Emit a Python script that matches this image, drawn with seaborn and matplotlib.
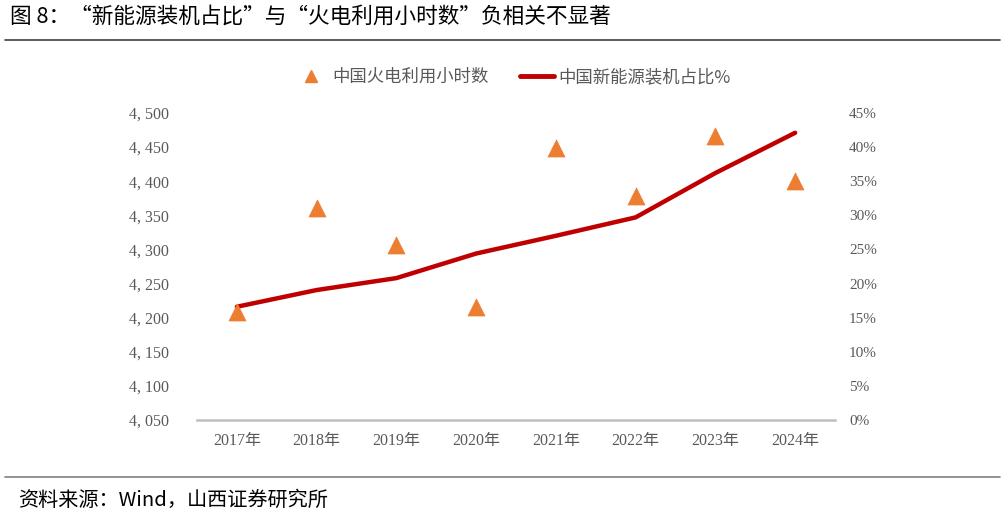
import matplotlib
matplotlib.use("Agg")
import matplotlib.pyplot as plt
import seaborn as sns
import pandas as pd
from matplotlib.lines import Line2D

years = ["2017年", "2018年", "2019年", "2020年", "2021年", "2022年", "2023年", "2024年"]
thermal_hours = [4209, 4361, 4307, 4216, 4448, 4379, 4466, 4400]
new_energy_share = [0.166, 0.1905, 0.208, 0.244, 0.270, 0.297, 0.362, 0.421]
left_ticks = [4050, 4100, 4150, 4200, 4250, 4300, 4350, 4400, 4450, 4500]
right_ticks = [0, 0.05, 0.10, 0.15, 0.20, 0.25, 0.30, 0.35, 0.40, 0.45]

title = "图 8：“新能源装机占比”与“火电利用小时数”负相关不显著"
source = "资料来源：Wind，山西证券研究所"
s1_name = "中国火电利用小时数"
s2_name = "中国新能源装机占比%"

sns.set_theme(style="white")
plt.rcParams['font.family'] = ['Liberation Serif', 'Noto Sans CJK SC', 'DejaVu Sans']

df = pd.DataFrame({"year": years, "hours": thermal_hours, "share": new_energy_share})

fig = plt.figure(figsize=(10.07, 5.17), dpi=100)
ax = fig.add_axes([197/1007, 1-420/517, (835-197)/1007, (420-113)/517])
ax2 = ax.twinx()

sns.lineplot(data=df, x="year", y="share", ax=ax2, color="#C00000", linewidth=3.2,
             sort=False, zorder=3)
sns.scatterplot(data=df, x="year", y="hours", ax=ax, marker="^", s=150,
                color="#ED7D31", edgecolor="#ED7D31", linewidth=0.5, zorder=2)
ax.set_zorder(ax2.get_zorder() + 1)
ax.patch.set_visible(False)

ax.set_xlim(-0.5, len(years) - 0.5)
ax.set_ylim(4050, 4500)
ax2.set_ylim(0, 0.45)
ax.set_yticks(left_ticks)
ax.set_yticklabels([f"{v//1000}, {v%1000:03d}" for v in left_ticks])
ax2.set_yticks(right_ticks)
ax2.set_yticklabels([f"{round(v*100)}%" for v in right_ticks])

for a in (ax, ax2):
    a.set_xlabel("")
    a.set_ylabel("")
    for s in a.spines.values():
        s.set_visible(False)
    a.grid(False)
ax.spines["bottom"].set_visible(True)
ax.spines["bottom"].set_color("#BFBFBF")
ax.spines["bottom"].set_linewidth(1.8)

ax.tick_params(axis="y", length=0, pad=20, labelsize=11.5, labelcolor="#595959")
ax2.tick_params(axis="y", length=0, pad=10, labelsize=11, labelcolor="#595959")
ax.tick_params(axis="x", length=0, pad=9, labelsize=11.5, labelcolor="#595959")

handles = [
    Line2D([], [], marker="^", linestyle="none", color="#ED7D31", markersize=8),
    Line2D([], [], color="#C00000", linewidth=3.5),
]
fig.legend(handles, [s1_name, s2_name], loc="center", bbox_to_anchor=(512/1007, 1-77/517),
           ncol=2, frameon=False, labelcolor="#595959",
           handlelength=2.0, columnspacing=1.8, handletextpad=0.2,
           prop={"family": ["Noto Sans CJK SC"], "size": 12.5})

fig.text(10/1007, 1-17/517, title, ha="left", va="center", fontsize=15.6,
         family=["Noto Sans CJK SC"], color="black")
fig.add_artist(Line2D([5/1007, 1000/1007], [1-40/517, 1-40/517], color="#404040", linewidth=1.2))
fig.add_artist(Line2D([5/1007, 1000/1007], [1-477/517, 1-477/517], color="#808080", linewidth=1.2))
fig.text(18/1007, 1-500/517, source, ha="left", va="center", fontsize=14.5,
         family=["Noto Sans CJK SC"], color="black")

fig.savefig("out.png", dpi=100)
